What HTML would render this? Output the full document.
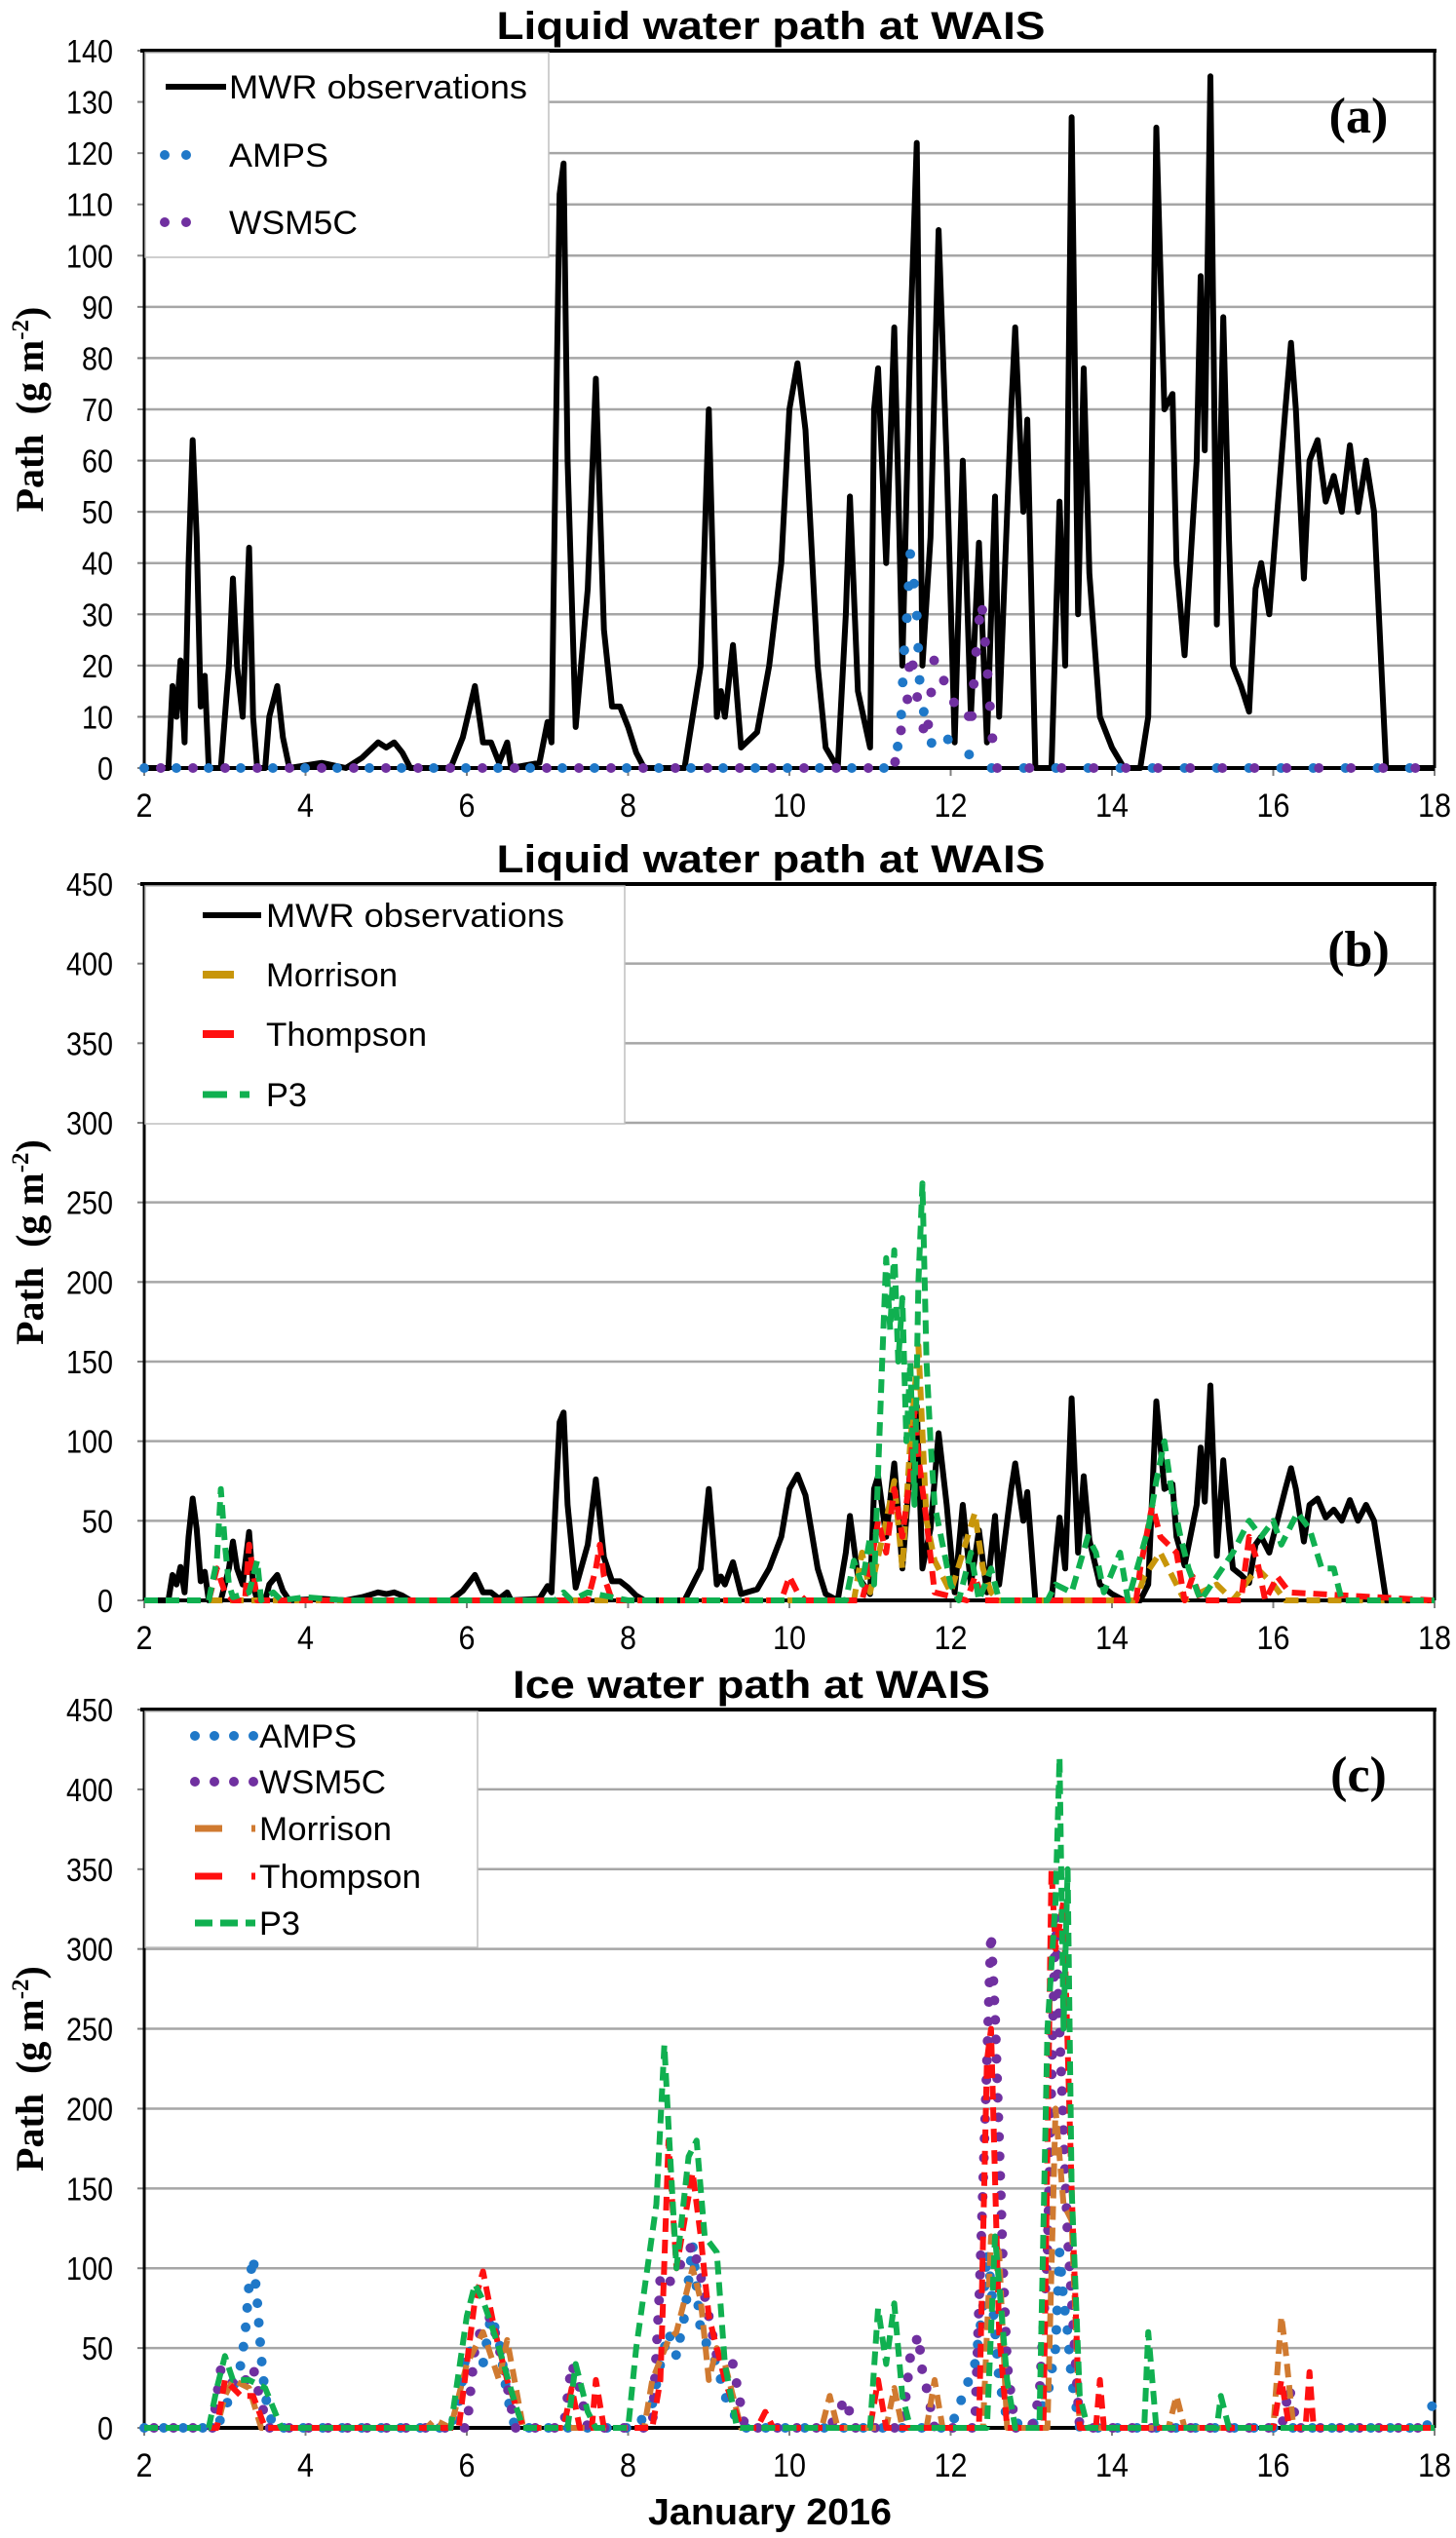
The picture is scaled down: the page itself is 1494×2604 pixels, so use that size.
<!DOCTYPE html>
<html><head><meta charset="utf-8"><style>
html,body{margin:0;padding:0;background:#fff;}
svg{display:block;}
</style></head><body>
<svg id="fig" width="1494" height="2604" viewBox="0 0 1494 2604" xmlns="http://www.w3.org/2000/svg" font-family="Liberation Sans, sans-serif"></svg>
<script>
// ---------- DATA ----------
const xTicks=[2,4,6,8,10,12,14,16,18];
const yTicksA=[0,10,20,30,40,50,60,70,80,90,100,110,120,130,140];
const yTicksB=[0,50,100,150,200,250,300,350,400,450];
const yTicksC=[0,50,100,150,200,250,300,350,400,450];
const mwr=[[2,0],[2.3,0],[2.35,16],[2.4,10],[2.45,21],[2.5,5],[2.55,40],[2.6,64],[2.65,45],[2.7,12],[2.75,18],[2.8,0],[2.95,0],[3.05,20],[3.1,37],[3.15,20],[3.22,10],[3.3,43],[3.35,10],[3.4,0],[3.5,0],[3.55,10],[3.65,16],[3.72,6],[3.8,0],[4.2,1],[4.5,0],[4.7,2],[4.9,5],[5.0,4],[5.1,5],[5.2,3],[5.3,0],[5.8,0],[5.95,6],[6.1,16],[6.2,5],[6.3,5],[6.4,1],[6.5,5],[6.55,0],[6.9,1],[7.0,9],[7.05,5],[7.1,60],[7.15,112],[7.2,118],[7.25,60],[7.35,8],[7.5,35],[7.6,76],[7.7,27],[7.8,12],[7.9,12],[8.0,8],[8.1,3],[8.2,0],[8.7,0],[8.9,20],[9.0,70],[9.1,10],[9.15,15],[9.2,10],[9.3,24],[9.4,4],[9.6,7],[9.75,20],[9.9,40],[10.0,70],[10.1,79],[10.2,66],[10.35,20],[10.45,4],[10.6,0],[10.7,30],[10.75,53],[10.85,15],[11.0,4],[11.05,70],[11.1,78],[11.2,40],[11.3,86],[11.35,55],[11.4,20],[11.5,84],[11.58,122],[11.65,20],[11.75,45],[11.85,105],[11.95,60],[12.05,5],[12.15,60],[12.25,10],[12.35,44],[12.45,5],[12.55,53],[12.6,10],[12.75,70],[12.8,86],[12.9,50],[12.95,68],[13.05,0],[13.25,0],[13.35,52],[13.42,20],[13.5,127],[13.58,30],[13.65,78],[13.72,38],[13.85,10],[14.0,4],[14.15,0],[14.35,0],[14.45,10],[14.55,125],[14.65,70],[14.75,73],[14.8,40],[14.9,22],[15.05,60],[15.1,96],[15.15,62],[15.22,135],[15.3,28],[15.38,88],[15.45,45],[15.5,20],[15.6,16],[15.7,11],[15.78,35],[15.85,40],[15.95,30],[16.05,50],[16.15,70],[16.22,83],[16.28,70],[16.38,37],[16.45,60],[16.55,64],[16.65,52],[16.75,57],[16.85,50],[16.95,63],[17.05,50],[17.15,60],[17.25,50],[17.4,0],[18,0]];
const ampsA=[[2,0],[11.3,0],[11.38,8],[11.42,22],[11.46,30],[11.5,42],[11.54,37],[11.58,30],[11.62,15],[11.7,8],[11.8,3],[11.95,6],[12.1,2],[12.3,3],[12.4,0],[18,0]];
const wsmA=[[2,0],[11.3,0],[11.35,6],[11.45,10],[11.5,23],[11.55,18],[11.6,12],[11.7,5],[11.8,22],[11.9,18],[12.0,12],[12.1,14],[12.2,13],[12.25,7],[12.3,20],[12.38,33],[12.42,26],[12.47,16],[12.5,9],[12.55,0],[18,0]];
const morB=[[2,0],[10.8,0],[10.9,30],[11.0,5],[11.2,50],[11.3,75],[11.4,20],[11.5,100],[11.6,160],[11.7,50],[11.8,25],[12.0,5],[12.3,55],[12.4,20],[12.5,5],[12.6,0],[14.3,0],[14.4,15],[14.6,30],[14.7,20],[14.9,0],[15.3,10],[15.5,0],[15.8,20],[16.0,10],[16.15,0],[18,0]];
const thoB=[[2,0],[2.8,0],[2.9,20],[3.0,5],[3.1,0],[3.25,0],[3.3,35],[3.4,0],[7.5,0],[7.6,20],[7.65,35],[7.7,15],[7.8,0],[9.9,0],[10.0,15],[10.1,5],[10.2,0],[10.9,0],[11.0,20],[11.1,50],[11.2,30],[11.3,70],[11.4,40],[11.5,80],[11.55,120],[11.6,90],[11.7,50],[11.8,5],[12.2,0],[12.3,15],[12.4,0],[14.3,0],[14.35,20],[14.5,60],[14.6,40],[14.8,30],[14.9,0],[15.0,15],[15.1,0],[15.6,0],[15.7,40],[15.8,25],[15.9,0],[16.05,15],[16.2,5],[18,0]];
const p3B=[[2,0],[2.8,0],[2.9,25],[2.95,70],[3.0,35],[3.05,10],[3.1,2],[3.3,5],[3.4,25],[3.45,0],[3.6,5],[3.7,0],[4.0,2],[4.5,0],[7.1,0],[7.2,5],[7.3,0],[7.5,5],[8,0],[10.7,0],[10.8,25],[10.9,10],[11.0,40],[11.05,10],[11.1,80],[11.15,150],[11.2,215],[11.25,170],[11.3,220],[11.35,150],[11.4,190],[11.45,100],[11.5,150],[11.55,60],[11.6,200],[11.65,262],[11.7,150],[11.75,100],[11.8,60],[11.9,35],[12.0,10],[12.1,0],[12.25,30],[12.35,0],[12.5,20],[12.6,0],[13.2,0],[13.3,10],[13.5,5],[13.7,40],[13.8,30],[13.9,5],[14.1,30],[14.2,0],[14.45,45],[14.55,75],[14.65,100],[14.75,65],[14.85,40],[14.95,20],[15.1,0],[15.3,15],[15.5,30],[15.7,50],[15.85,40],[16.0,50],[16.1,35],[16.3,55],[16.45,45],[16.6,20],[16.75,20],[16.85,0],[18,0]];
const ampsC=[[2,0],[2.8,0],[2.95,5],[3.1,25],[3.2,40],[3.25,58],[3.3,90],[3.35,107],[3.4,80],[3.45,45],[3.5,20],[3.6,0],[5.8,0],[5.9,15],[6.0,50],[6.2,40],[6.3,70],[6.4,55],[6.5,20],[6.6,0],[8.1,0],[8.3,15],[8.4,40],[8.5,60],[8.6,45],[8.7,70],[8.8,115],[8.9,60],[9.0,50],[9.1,40],[9.2,20],[9.4,0],[12.0,0],[12.3,40],[12.4,75],[12.45,110],[12.5,90],[12.6,30],[12.7,5],[13.0,0],[13.2,20],[13.3,50],[13.35,110],[13.4,80],[13.45,60],[13.5,30],[13.6,0],[17.9,0],[18,20]];
const wsmC=[[2,0],[2.85,0],[2.9,20],[2.95,37],[3.05,30],[3.2,25],[3.35,38],[3.45,15],[3.55,0],[6.0,0],[6.1,50],[6.2,65],[6.3,70],[6.45,40],[6.6,0],[7.2,0],[7.3,40],[7.4,25],[7.5,0],[8.3,0],[8.4,95],[8.5,90],[8.8,115],[8.9,95],[9.1,45],[9.3,40],[9.45,0],[10.5,0],[10.6,10],[10.7,18],[10.8,0],[11.4,0],[11.5,45],[11.6,58],[11.65,35],[11.7,25],[11.8,0],[12.3,0],[12.4,150],[12.45,230],[12.5,310],[12.55,260],[12.6,180],[12.65,100],[12.7,40],[12.8,0],[13.0,0],[13.1,20],[13.2,110],[13.3,320],[13.35,250],[13.45,120],[13.6,0],[16.1,0],[16.2,25],[16.3,0],[18,0]];
const morC=[[2,0],[2.9,0],[3.0,20],[3.1,30],[3.3,25],[3.45,0],[5.5,0],[5.6,5],[5.8,0],[6.0,40],[6.2,60],[6.4,30],[6.5,55],[6.7,0],[8.2,0],[8.3,30],[8.5,55],[8.6,60],[8.8,100],[8.9,80],[9.0,30],[9.1,50],[9.2,40],[9.4,0],[10.4,0],[10.5,20],[10.6,0],[11.2,0],[11.3,25],[11.4,0],[11.7,0],[11.8,30],[11.9,0],[12.4,0],[12.5,120],[12.6,110],[12.7,0],[13.2,0],[13.3,200],[13.4,140],[13.5,130],[13.6,0],[14.7,0],[14.8,20],[14.9,0],[16.0,0],[16.1,70],[16.15,50],[16.25,0],[18,0]];
const thoC=[[2,0],[2.9,0],[3.0,30],[3.2,20],[3.35,20],[3.5,0],[5.9,0],[6.1,80],[6.2,98],[6.35,60],[6.5,30],[6.7,0],[7.2,0],[7.3,25],[7.4,0],[7.55,0],[7.6,30],[7.7,0],[8.3,0],[8.4,30],[8.5,180],[8.6,100],[8.8,160],[8.9,120],[9.0,70],[9.2,30],[9.4,0],[9.6,0],[9.7,10],[9.8,0],[11.0,0],[11.1,30],[11.2,0],[12.35,0],[12.45,230],[12.5,250],[12.6,60],[12.7,0],[13.15,0],[13.25,350],[13.3,300],[13.4,330],[13.5,150],[13.6,0],[13.8,0],[13.85,30],[13.9,0],[16.0,0],[16.1,30],[16.2,0],[16.4,0],[16.45,35],[16.5,0],[18,0]];
const p3C=[[2,0],[2.8,0],[2.9,25],[3.0,45],[3.1,30],[3.3,30],[3.5,25],[3.7,0],[5.8,0],[6.0,70],[6.1,90],[6.2,80],[6.4,50],[6.6,15],[6.7,0],[7.25,0],[7.35,40],[7.5,10],[7.6,0],[8.0,0],[8.1,50],[8.35,140],[8.45,240],[8.5,190],[8.6,100],[8.75,170],[8.85,180],[8.95,120],[9.1,110],[9.2,40],[9.35,0],[11.0,0],[11.1,75],[11.2,40],[11.3,78],[11.4,20],[11.5,0],[12.45,0],[12.55,120],[12.6,90],[12.7,30],[12.8,0],[13.1,0],[13.2,250],[13.3,330],[13.35,420],[13.4,250],[13.45,350],[13.5,150],[13.6,20],[13.7,0],[14.4,0],[14.45,60],[14.55,0],[15.3,0],[15.35,20],[15.45,0],[18,0]];

// ---------- DRAW ----------
const NS="http://www.w3.org/2000/svg";
const svg=document.getElementById('fig');
function mk(tag,attrs,parent){const e=document.createElementNS(NS,tag);for(const k in attrs)e.setAttribute(k,attrs[k]);(parent||svg).appendChild(e);return e;}
const X0=148,X1=1472;
const SERIF='font-family:"Liberation Serif",serif';
function xs(t){return X0+(t-2)/16*(X1-X0);}
function panel(p){
  const g=mk('g',{});
  
  
  const ys=v=>p.bot-(v/p.max)*(p.bot-p.top);
  p.ys=ys;
  const t=mk('text',{x:p.tx,y:p.top-12,'text-anchor':'middle','font-size':40,'font-weight':'bold',textLength:p.tw,lengthAdjust:'spacingAndGlyphs'},g);
  t.textContent=p.title;
  
  
  p.yt.forEach(v=>{
    const y=ys(v);
    if(v>0){const gl=mk('line',{x1:X0,x2:X1,y1:y,y2:y,stroke:'#a6a6a6','stroke-width':2.5},g);
      
      }
    mk('line',{x1:X0-7,x2:X0,y1:y,y2:y,stroke:'#808080','stroke-width':2},g);
    const s=String(v);
    const tl=mk('text',{x:116,y:y+12,'text-anchor':'end','font-size':33,textLength:s.length*16,lengthAdjust:'spacingAndGlyphs'},g);
    tl.textContent=v;
    
    
  });
  xTicks.forEach(v=>{
    const x=xs(v);
    mk('line',{x1:x,x2:x,y1:p.bot,y2:p.bot+8,stroke:'#808080','stroke-width':2},g);
    const s=String(v);
    const tl=mk('text',{x:x,y:p.bot+50,'text-anchor':'middle','font-size':34,textLength:s.length*17,lengthAdjust:'spacingAndGlyphs'},g);
    tl.textContent=v;
    
    
  });
  mk('line',{x1:X0-4,x2:X1+2,y1:p.top,y2:p.top,stroke:'#000','stroke-width':4},g);
  mk('line',{x1:X1,x2:X1,y1:p.top,y2:p.bot,stroke:'#000','stroke-width':3},g);
  mk('line',{x1:X0,x2:X0,y1:p.top,y2:p.bot,stroke:'#000','stroke-width':3},g);
  mk('line',{x1:X0,x2:X1,y1:p.bot,y2:p.bot,stroke:'#000','stroke-width':4},g);
  const yl=mk('text',{x:0,y:0,'text-anchor':'middle','font-size':40,'font-weight':'bold',style:SERIF,transform:`translate(44,${(p.top+p.bot)/2}) rotate(-90)`},g);
  yl.innerHTML='Path&#160;&#160;(g m<tspan font-size="25" dy="-15">-2</tspan><tspan dy="15">)</tspan>';
  
  
  const pl=mk('text',{x:1394,y:p.top+84,'text-anchor':'middle','font-size':52,'font-weight':'bold',style:SERIF},g);
  pl.textContent='('+p.id+')';
  
  
  return g;
}
function series(p,g,data,style,name){
  const pts=data.map(d=>xs(d[0]).toFixed(1)+','+p.ys(d[1]).toFixed(1)).join(' ');
  const a={points:pts,fill:'none',stroke:style.c,'stroke-width':style.w,'stroke-linejoin':'round','stroke-linecap':style.cap||'butt'};
  if(style.dash)a['stroke-dasharray']=style.dash;
  if(style.off)a['stroke-dashoffset']=style.off;
  const pl=mk('polyline',a,g);
  
  
}
function legend(g,box,items){
  const r=mk('rect',{x:box[0],y:box[1],width:box[2],height:box[3],fill:'#fff',stroke:'#bfbfbf','stroke-width':1.5},g);
  
  
  items.forEach(it=>{
    const a={x1:it.x1,x2:it.x2,y1:it.y,y2:it.y,stroke:it.c,'stroke-width':it.w,'stroke-linecap':it.cap||'butt'};
    if(it.dash)a['stroke-dasharray']=it.dash;
    const l=mk('line',a,g);
    
    
    const t=mk('text',{x:it.tx,y:it.y+12,'font-size':34,textLength:it.tl,lengthAdjust:'spacingAndGlyphs'},g);
    t.textContent=it.label;
    
    
  });
}
const BLUE='#1f78c8',PURP='#7030a0',GOLD='#c8960a',RED='#ff1010',GREEN='#10b050',BROWN='#d07a30';

// Panel a
const pa={id:'a',title:'Liquid water path at WAIS',top:52,bot:788,max:140,yt:yTicksA,tx:791,tw:563};
const ga=panel(pa);
series(pa,ga,mwr,{c:'#000',w:6},'mwr-line-a');
series(pa,ga,ampsA,{c:BLUE,w:10,dash:'0 33',cap:'round'},'amps-dots-a');
series(pa,ga,wsmA,{c:PURP,w:10,dash:'0 33',off:16,cap:'round'},'wsm5c-dots-a');
legend(ga,[149,54,414,210],[
 {x1:170,x2:232,y:89,c:'#000',w:6,tx:235,tl:306,label:'MWR  observations'},
 {x1:169,x2:205,y:159,c:BLUE,w:10,dash:'0 22',cap:'round',tx:235,tl:102,label:'AMPS'},
 {x1:169,x2:205,y:228,c:PURP,w:10,dash:'0 22',cap:'round',tx:235,tl:132,label:'WSM5C'}]);

// Panel b
const pb={id:'b',title:'Liquid water path at WAIS',top:907,bot:1642,max:450,yt:yTicksB,tx:791,tw:563};
const gb=panel(pb);
series(pb,gb,mwr,{c:'#000',w:6},'mwr-line-b');
series(pb,gb,morB,{c:GOLD,w:6,dash:'14 8'},'morrison-line-b');
series(pb,gb,thoB,{c:RED,w:6,dash:'14 8'},'thompson-line-b');
series(pb,gb,p3B,{c:GREEN,w:6,dash:'14 8'},'p3-line-b');
legend(gb,[149,909,492,244],[
 {x1:208,x2:268,y:939,c:'#000',w:6,tx:273,tl:306,label:'MWR  observations'},
 {x1:208,x2:240,y:1000,c:GOLD,w:8,tx:273,tl:135,label:'Morrison'},
 {x1:208,x2:240,y:1061,c:RED,w:8,tx:273,tl:165,label:'Thompson'},
 {x1:208,x2:268,y:1123,c:GREEN,w:7,dash:'25 13 10 20',tx:273,tl:42,label:'P3'}]);

// Panel c
const pc={id:'c',title:'Ice water path at WAIS',top:1754,bot:2491,max:450,yt:yTicksC,tx:771,tw:490};
const gc=panel(pc);
series(pc,gc,ampsC,{c:BLUE,w:10,dash:'0 20',cap:'round'},'amps-dots-c');
series(pc,gc,wsmC,{c:PURP,w:10,dash:'0 20',off:10,cap:'round'},'wsm5c-dots-c');
series(pc,gc,morC,{c:BROWN,w:6,dash:'14 8'},'morrison-line-c');
series(pc,gc,thoC,{c:RED,w:6,dash:'14 8'},'thompson-line-c');
series(pc,gc,p3C,{c:GREEN,w:6,dash:'14 8'},'p3-line-c');
legend(gc,[149,1756,341,242],[
 {x1:200,x2:262,y:1781,c:BLUE,w:10,dash:'0 20',cap:'round',tx:266,tl:100,label:'AMPS'},
 {x1:200,x2:262,y:1828,c:PURP,w:10,dash:'0 20',cap:'round',tx:266,tl:130,label:'WSM5C'},
 {x1:200,x2:262,y:1876,c:BROWN,w:7,dash:'28 30',tx:266,tl:136,label:'Morrison'},
 {x1:200,x2:262,y:1925,c:RED,w:7,dash:'28 30',tx:266,tl:166,label:'Thompson'},
 {x1:200,x2:262,y:1973,c:GREEN,w:7,dash:'18 8',tx:266,tl:42,label:'P3'}]);
const xl=mk('text',{x:790,y:2590,'text-anchor':'middle','font-size':38,'font-weight':'bold',textLength:250,lengthAdjust:'spacingAndGlyphs'});
xl.textContent='January 2016';


</script>
</body></html>
